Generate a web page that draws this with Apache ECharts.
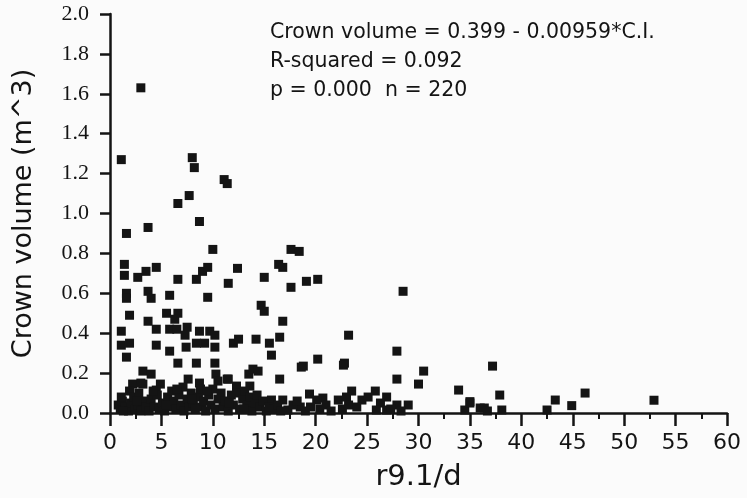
<!DOCTYPE html>
<html>
<head>
<meta charset="utf-8">
<script src="https://cdn.jsdelivr.net/npm/echarts@6/dist/echarts.min.js"></script>
<style>
  html, body { margin: 0; padding: 0; background: #fbfbfb; }
  #app { width: 747px; height: 498px; }
</style>
</head>
<body>
<div id="app"></div>
<script>
// tick labels
var xTicks = [0, 5, 10, 15, 20, 25, 30, 35, 40, 45, 50, 55, 60];
var yTicks = ['0.0', '0.2', '0.4', '0.6', '0.8', '1.0', '1.2', '1.4', '1.6', '1.8', '2.0'];

// r9.1/d values (x) and crown volume (y)
var upperPoints = [
    [3.0, 1.63], [1.1, 1.27], [8.0, 1.28], [8.2, 1.23], [11.1, 1.17], [11.4, 1.15],
    [7.7, 1.09], [6.6, 1.05], [8.7, 0.96], [3.7, 0.93], [1.6, 0.90], [10.0, 0.82],
    [17.6, 0.82], [18.4, 0.81], [1.4, 0.745], [16.4, 0.745], [16.8, 0.73], [1.4, 0.69],
    [2.7, 0.68], [3.5, 0.71], [4.5, 0.73], [6.6, 0.67], [8.4, 0.67], [9.0, 0.71],
    [9.5, 0.73], [12.4, 0.725], [11.5, 0.65], [15.0, 0.68], [17.6, 0.63], [1.6, 0.60],
    [1.6, 0.575], [3.7, 0.61], [4.0, 0.575], [5.8, 0.59], [9.5, 0.58], [14.7, 0.54],
    [15.0, 0.51], [1.9, 0.49], [5.5, 0.50], [6.6, 0.50], [3.7, 0.46], [4.5, 0.42],
    [6.3, 0.47], [5.8, 0.42], [6.5, 0.42], [7.5, 0.43], [7.3, 0.39], [8.7, 0.41],
    [9.7, 0.41], [10.2, 0.39], [16.8, 0.46], [1.1, 0.41], [1.1, 0.34], [1.9, 0.35],
    [1.6, 0.28], [4.5, 0.34], [5.8, 0.31], [7.4, 0.33], [8.4, 0.35], [9.2, 0.35],
    [10.2, 0.33], [12.0, 0.35], [12.5, 0.37], [14.2, 0.37], [15.5, 0.35], [16.5, 0.38],
    [15.7, 0.29], [6.6, 0.25], [8.4, 0.25], [10.2, 0.25], [3.2, 0.21], [4.0, 0.195],
    [10.3, 0.195], [13.5, 0.195], [13.9, 0.22], [14.4, 0.21], [16.5, 0.17], [7.6, 0.17],
    [10.5, 0.16], [11.5, 0.17], [2.2, 0.145], [3.2, 0.145], [4.9, 0.145], [8.7, 0.15],
    [4.5, 0.115], [1.9, 0.11], [12.3, 0.135], [13.6, 0.135], [15.7, 0.065], [16.8, 0.065],
    [19.1, 0.66], [20.2, 0.67], [28.5, 0.61], [23.2, 0.39], [20.2, 0.27], [18.8, 0.235],
    [22.8, 0.25], [27.9, 0.31], [27.9, 0.17], [30.5, 0.21], [30.0, 0.145], [33.9, 0.115],
    [19.4, 0.095], [20.7, 0.075], [20.1, 0.065], [22.2, 0.065], [23.5, 0.11], [23.0, 0.08],
    [24.5, 0.065], [25.1, 0.08], [25.8, 0.11], [26.9, 0.08], [26.3, 0.05], [27.9, 0.04],
    [29.0, 0.04], [23.2, 0.04], [18.5, 0.03], [17.3, 0.015], [19.0, 0.01], [35.0, 0.057],
    [25.9, 0.015], [26.9, 0.015], [34.5, 0.015], [37.2, 0.235], [37.9, 0.09], [35.0, 0.05],
    [36.0, 0.025], [36.4, 0.025], [38.1, 0.015], [42.5, 0.015], [43.3, 0.065], [44.9, 0.037],
    [46.2, 0.10], [52.9, 0.064], [3.0, 0.15], [11.4, 0.17], [18.6, 0.23], [22.7, 0.24]
];
var lowerPoints = [
    [0.8, 0.04], [1.0, 0.02], [1.2, 0.06], [1.5, 0.03], [1.8, 0.01], [2.0, 0.05],
    [1.3, 0.01], [2.3, 0.08], [2.4, 0.02], [2.7, 0.04], [3.0, 0.01], [3.2, 0.06],
    [3.5, 0.03], [3.8, 0.01], [4.0, 0.07], [4.3, 0.03], [4.6, 0.09], [4.8, 0.02],
    [4.2, 0.11], [2.8, 0.10], [5.1, 0.05], [5.3, 0.01], [5.6, 0.08], [5.8, 0.03],
    [6.0, 0.11], [6.2, 0.06], [6.4, 0.02], [6.7, 0.09], [6.9, 0.04], [7.1, 0.13],
    [7.2, 0.01], [7.5, 0.07], [7.7, 0.03], [7.9, 0.10], [8.1, 0.05], [8.3, 0.02],
    [8.6, 0.08], [8.8, 0.12], [8.9, 0.03], [9.1, 0.06], [9.3, 0.01], [9.6, 0.09],
    [9.8, 0.04], [10.0, 0.12], [10.2, 0.02], [10.5, 0.07], [10.8, 0.10], [11.0, 0.03],
    [11.2, 0.06], [11.5, 0.01], [11.8, 0.09], [12.0, 0.04], [12.3, 0.10], [12.6, 0.02],
    [12.9, 0.07], [13.1, 0.11], [13.3, 0.04], [13.6, 0.08], [13.8, 0.01], [14.1, 0.05],
    [14.3, 0.09], [14.6, 0.03], [14.9, 0.06], [15.2, 0.01], [15.5, 0.03], [15.9, 0.02],
    [16.3, 0.04], [16.6, 0.01], [17.8, 0.04], [18.2, 0.06], [19.5, 0.03], [20.4, 0.02],
    [21.0, 0.04], [21.5, 0.01], [22.6, 0.02], [24.0, 0.03], [27.3, 0.02], [28.3, 0.01],
    [36.7, 0.01], [1.1, 0.08], [2.6, 0.06], [5.4, 0.04], [6.5, 0.12], [8.0, 0.07],
    [9.4, 0.11], [11.6, 0.05], [13.0, 0.02]
];

var annotation = [
    'Crown volume = 0.399 - 0.00959*C.I.',
    'R-squared = 0.092',
    'p = 0.000  n = 220'
];

var ink = '#141414';
var chart = echarts.init(document.getElementById('app'));

chart.setOption({
    backgroundColor: '#fbfbfb',
    animation: false,
    grid: { left: 110, right: 20, top: 14, bottom: 85 },
    xAxis: {
        type: 'value',
        min: xTicks[0],
        max: xTicks[xTicks.length - 1],
        interval: 5,
        name: 'r9.1/d',
        nameLocation: 'middle',
        nameGap: 50,
        nameTextStyle: { fontFamily: 'DejaVu Sans', fontSize: 29, color: ink },
        axisLine: { lineStyle: { color: ink, width: 2.5 } },
        axisTick: { length: 13, lineStyle: { color: ink, width: 2.5 } },
        minorTick: { show: true, splitNumber: 2, length: 6, lineStyle: { color: ink, width: 2 } },
        axisLabel: { margin: 19, fontFamily: 'DejaVu Sans', fontSize: 22, color: ink },
        splitLine: { show: false }
    },
    yAxis: {
        type: 'value',
        min: 0,
        max: 2,
        interval: 0.2,
        name: 'Crown volume (m^3)',
        nameLocation: 'middle',
        nameGap: 73,
        nameTextStyle: { fontFamily: 'DejaVu Sans', fontSize: 27, color: ink },
        axisLine: { lineStyle: { color: ink, width: 2.5 } },
        axisTick: { length: 10, lineStyle: { color: ink, width: 2.5 } },
        axisLabel: {
            margin: 21,
            fontFamily: 'Liberation Serif',
            fontSize: 22,
            color: ink,
            formatter: function (v) { return yTicks[Math.round(v / 0.2)]; }
        },
        splitLine: { show: false }
    },
    graphic: [{
        type: 'text',
        left: 270,
        top: 18,
        style: {
            text: annotation.join('\n'),
            fontFamily: 'DejaVu Sans',
            fontSize: 20.5,
            lineHeight: 29,
            fill: ink
        }
    }],
    series: [{
        type: 'scatter',
        symbol: 'rect',
        symbolSize: 9,
        itemStyle: { color: ink, opacity: 1 },
        data: upperPoints.concat(lowerPoints)
    }]
});
</script>
</body>
</html>
